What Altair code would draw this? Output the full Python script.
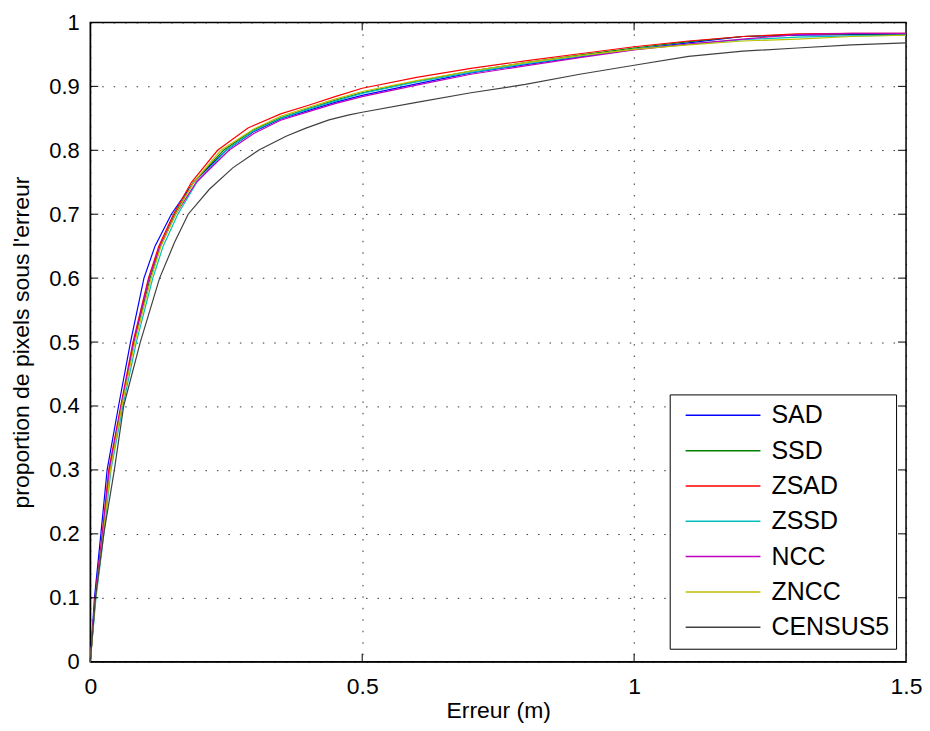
import altair as alt
import pandas as pd

names = ["SAD", "SSD", "ZSAD", "ZSSD", "NCC", "ZNCC", "CENSUS5"]
colors = ["#0000FF", "#008000", "#FF0000", "#00BFBF", "#BF00BF", "#BFBF00", "#404040"]

sad_x = [0, 0.0077, 0.0195, 0.031, 0.052, 0.074, 0.0987, 0.119, 0.149, 0.19, 0.25, 0.3, 0.35, 0.4, 0.45, 0.5, 0.6, 0.7, 0.8, 0.9, 1.0, 1.1, 1.2, 1.3, 1.4, 1.5]
sad_y = [0, 0.1, 0.2, 0.3, 0.4, 0.5, 0.6, 0.65, 0.7, 0.75, 0.8, 0.829, 0.849, 0.862, 0.875, 0.886, 0.904, 0.921, 0.934, 0.946, 0.958, 0.968, 0.978, 0.980, 0.981, 0.982]

ssd_x = [0, 0.0095, 0.0235, 0.036, 0.057, 0.0805, 0.11, 0.129, 0.155, 0.19, 0.245, 0.3, 0.35, 0.4, 0.45, 0.5, 0.6, 0.7, 0.8, 0.9, 1.0, 1.1, 1.2, 1.3, 1.4, 1.5]
ssd_y = [0, 0.1, 0.2, 0.3, 0.4, 0.5, 0.6, 0.65, 0.7, 0.75, 0.8, 0.832, 0.851, 0.865, 0.878, 0.89, 0.908, 0.924, 0.937, 0.949, 0.96, 0.97, 0.978, 0.981, 0.982, 0.982]

zsad_x = [0, 0.009, 0.022, 0.034, 0.056, 0.0785, 0.107, 0.126, 0.153, 0.186, 0.234, 0.29, 0.35, 0.4, 0.45, 0.5, 0.6, 0.7, 0.8, 0.9, 1.0, 1.1, 1.2, 1.3, 1.4, 1.5]
zsad_y = [0, 0.1, 0.2, 0.3, 0.4, 0.5, 0.6, 0.65, 0.7, 0.75, 0.8, 0.835, 0.857, 0.87, 0.884, 0.897, 0.914, 0.928, 0.94, 0.951, 0.962, 0.971, 0.978, 0.982, 0.983, 0.983]

zssd_x = [0, 0.0105, 0.025, 0.038, 0.06, 0.0847, 0.115, 0.134, 0.161, 0.196, 0.25, 0.3, 0.35, 0.4, 0.45, 0.5, 0.6, 0.7, 0.8, 0.9, 1.0, 1.1, 1.2, 1.3, 1.4, 1.5]
zssd_y = [0, 0.1, 0.2, 0.3, 0.4, 0.5, 0.6, 0.65, 0.7, 0.75, 0.8, 0.83, 0.85, 0.864, 0.877, 0.889, 0.907, 0.922, 0.935, 0.947, 0.958, 0.966, 0.973, 0.977, 0.979, 0.98]

ncc_x = [0, 0.009, 0.0225, 0.035, 0.057, 0.08, 0.108, 0.128, 0.157, 0.195, 0.255, 0.3, 0.35, 0.4, 0.45, 0.5, 0.6, 0.7, 0.8, 0.9, 1.0, 1.1, 1.2, 1.3, 1.4, 1.5]
ncc_y = [0, 0.1, 0.2, 0.3, 0.4, 0.5, 0.6, 0.65, 0.7, 0.75, 0.8, 0.826, 0.847, 0.86, 0.873, 0.884, 0.902, 0.919, 0.932, 0.945, 0.957, 0.966, 0.974, 0.981, 0.983, 0.983]

zncc_x = [0, 0.0098, 0.024, 0.037, 0.058, 0.082, 0.112, 0.13, 0.157, 0.19, 0.24, 0.3, 0.35, 0.4, 0.45, 0.5, 0.6, 0.7, 0.8, 0.9, 1.0, 1.1, 1.2, 1.3, 1.4, 1.5]
zncc_y = [0, 0.1, 0.2, 0.3, 0.4, 0.5, 0.6, 0.65, 0.7, 0.75, 0.8, 0.833, 0.853, 0.867, 0.88, 0.892, 0.909, 0.924, 0.937, 0.948, 0.958, 0.965, 0.971, 0.974, 0.978, 0.98]

census_x = [0, 0.0095, 0.0248, 0.0443, 0.0614, 0.092, 0.1275, 0.155, 0.18, 0.219, 0.262, 0.311, 0.36, 0.3965, 0.439, 0.476, 0.5, 0.6, 0.7, 0.8, 0.9, 1.0, 1.1, 1.2, 1.3, 1.4, 1.5]
census_y = [0, 0.1, 0.2, 0.3, 0.4, 0.5, 0.6, 0.656, 0.7, 0.739, 0.7725, 0.801, 0.822, 0.8346, 0.8475, 0.8553, 0.8595, 0.875, 0.89, 0.903, 0.919, 0.933, 0.947, 0.955, 0.96, 0.965, 0.968]

x_ticks = [0, 0.5, 1, 1.5]
y_ticks = [0, 0.1, 0.2, 0.3, 0.4, 0.5, 0.6, 0.7, 0.8, 0.9, 1]
x_inner = [0.5, 1]
y_inner = [0.1, 0.2, 0.3, 0.4, 0.5, 0.6, 0.7, 0.8, 0.9]

series = [(sad_x, sad_y), (ssd_x, ssd_y), (zsad_x, zsad_y), (zssd_x, zssd_y),
          (ncc_x, ncc_y), (zncc_x, zncc_y), (census_x, census_y)]

rows = []
for name, (xs, ys) in zip(names, series):
    for i, (a, b) in enumerate(zip(xs, ys)):
        rows.append({"serie": name, "erreur": a, "prop": b, "i": i})
df = pd.DataFrame(rows)

W, H = 818, 641
FONT = "Liberation Sans"

xscale = alt.Scale(domain=[0, 1.5], nice=False, zero=False)
yscale = alt.Scale(domain=[0, 1], nice=False, zero=False)

x_axis = alt.Axis(title="Erreur (m)", values=x_ticks, format="~g",
                  labelPadding=14, titleY=56, titleBaseline="alphabetic",
                  labelFlush=False, labelFontSize=23)
y_axis = alt.Axis(title="proportion de pixels sous l'erreur", values=y_ticks,
                  format="~g", labelPadding=11, titlePadding=15, labelFlush=False,
                  labelFontSize=22)

lines = alt.Chart(df).mark_line(strokeWidth=1.2).encode(
    x=alt.X("erreur:Q", scale=xscale, axis=x_axis),
    y=alt.Y("prop:Q", scale=yscale, axis=y_axis),
    color=alt.Color("serie:N", sort=names,
                    scale=alt.Scale(domain=names, range=colors),
                    legend=alt.Legend(orient="none", legendX=581, legendY=373, title=None,
                                      symbolType="stroke", symbolSize=5625,
                                      symbolStrokeWidth=1.5, clipHeight=30,
                                      rowPadding=5.4, padding=6, symbolOffset=9,
                                      labelOffset=10, labelFontSize=25, labelFont=FONT,
                                      labelColor="black", strokeColor="black",
                                      fillColor="white", symbolOpacity=1)),
    order="i:Q",
)

xt = pd.DataFrame({"erreur": x_inner})
yt = pd.DataFrame({"prop": y_inner})

tick_b = alt.Chart(xt).mark_rule(color="black", strokeWidth=1).encode(
    x=alt.X("erreur:Q", scale=xscale, axis=x_axis), y=alt.value(H), y2=alt.value(H - 8))
tick_t = alt.Chart(xt).mark_rule(color="black", strokeWidth=1).encode(
    x=alt.X("erreur:Q", scale=xscale, axis=x_axis), y=alt.value(0), y2=alt.value(8))
tick_l = alt.Chart(yt).mark_rule(color="black", strokeWidth=1).encode(
    y=alt.Y("prop:Q", scale=yscale, axis=y_axis), x=alt.value(0), x2=alt.value(8))
tick_r = alt.Chart(yt).mark_rule(color="black", strokeWidth=1).encode(
    y=alt.Y("prop:Q", scale=yscale, axis=y_axis), x=alt.value(W), x2=alt.value(W - 8))

chart = alt.layer(lines, tick_b, tick_t, tick_l, tick_r).properties(
    width=W, height=H,
    autosize=alt.AutoSizeParams(type="none"),
    padding={"left": 82.5, "top": 13.5, "right": 16, "bottom": 60.5},
).configure_axis(
    labelFont=FONT, titleFont=FONT, titleFontSize=23,
    titleFontWeight="normal", labelColor="black", titleColor="black",
    domainColor="black", domainWidth=1, ticks=False,
    grid=True, gridColor="black", gridOpacity=0.8, gridDash=[1.5, 10], gridWidth=1,
).configure_view(
    stroke="black", strokeWidth=1.5
).configure_legend(
    strokeWidth=1
)

chart.save("out.html", embed_options={"renderer": "svg", "actions": False})
